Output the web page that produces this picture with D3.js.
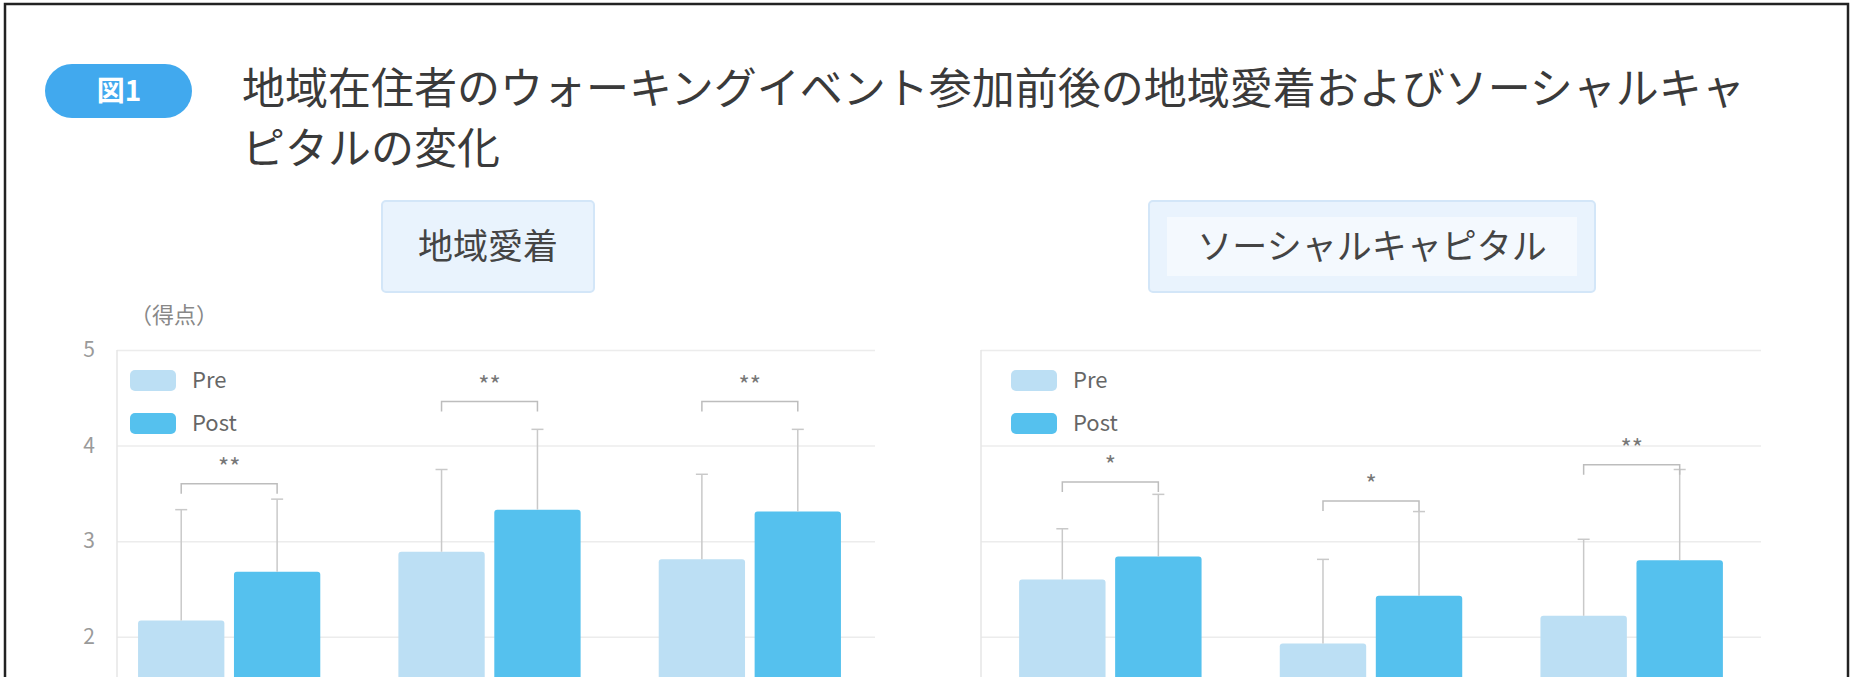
<!DOCTYPE html>
<html lang="ja">
<head>
<meta charset="utf-8">
<script src="https://cdn.jsdelivr.net/npm/d3@7"></script>
<style>
body{margin:0;background:#fff;overflow:hidden}
text{font-family:"Noto Sans CJK JP","Noto Sans",sans-serif}
</style>
</head>
<body>
<svg id="chart" width="1853" height="677"></svg>
<script>
// data
var groups = ["1回目", "2回目", "3回目"];
var series = ["Pre", "Post"];
var yTicks = [2, 3, 4, 5];

var leftPre = [2.17, 2.89, 2.81];
var leftPost = [2.68, 3.33, 3.31];
var leftPreSd = [1.16, 0.86, 0.89];
var leftPostSd = [0.76, 0.84, 0.86];
var leftSigLevel = [3.60, 4.46, 4.46];
var leftSig = ["**", "**", "**"];

var rightPre = [2.60, 1.93, 2.22];
var rightPost = [2.84, 2.43, 2.80];
var rightPreSd = [0.53, 0.88, 0.80];
var rightPostSd = [0.65, 0.88, 0.95];
var rightSigLevel = [3.62, 3.42, 3.80];
var rightSig = ["*", "*", "**"];

var titleLines = ["地域在住者のウォーキングイベント参加前後の地域愛着およびソーシャルキャ", "ピタルの変化"];

var svg = d3.select("#chart");
var colors = {Pre: "#bcdff4", Post: "#55c1ee"};

// page frame
svg.append("rect").attr("x", 5).attr("y", 4).attr("width", 1843).attr("height", 760)
  .attr("fill", "none").attr("stroke", "#222").attr("stroke-width", 2.5);

// badge + title
svg.append("rect").attr("x", 45).attr("y", 64).attr("width", 147).attr("height", 54).attr("rx", 27)
  .attr("fill", "#41a9ee");
svg.append("text").attr("x", 119).attr("y", 101).attr("text-anchor", "middle")
  .attr("font-size", 28).attr("font-weight", "bold").attr("fill", "#fff").text("図1");

svg.selectAll(".title").data(titleLines).enter().append("text")
  .attr("class", "title")
  .attr("x", 242)
  .attr("y", function(d, i) { return 104 + i * 60; })
  .attr("font-size", 43).attr("fill", "#3a3a3a")
  .text(function(d) { return d; });

var y = d3.scaleLinear().domain([0, 5]).range([828, 350]);

var panels = [
  {name: "地域愛着", boxX: 382, boxW: 212, axisX: 117, range: [99, 880], gridEnd: 875,
   pre: leftPre, post: leftPost, preSd: leftPreSd, postSd: leftPostSd,
   sigLevel: leftSigLevel, sig: leftSig, labels: true, unit: "（得点）"},
  {name: "ソーシャルキャピタル", boxX: 1149, boxW: 446, axisX: 981, range: [980, 1762], gridEnd: 1761,
   pre: rightPre, post: rightPost, preSd: rightPreSd, postSd: rightPostSd,
   sigLevel: rightSigLevel, sig: rightSig, labels: false, inner: true}
];

panels.forEach(function(p) {
  var g = svg.append("g");

  // heading box
  g.append("rect").attr("x", p.boxX).attr("y", 201).attr("width", p.boxW).attr("height", 91)
    .attr("rx", 4).attr("fill", "#e9f3fd").attr("stroke", "#d3e6f8").attr("stroke-width", 2);
  if (p.inner) {
    g.append("rect").attr("x", p.boxX + 18).attr("y", 217).attr("width", p.boxW - 36).attr("height", 59)
      .attr("fill", "#f4f9fe");
  }
  g.append("text").attr("x", p.boxX + p.boxW / 2).attr("y", 259).attr("text-anchor", "middle")
    .attr("font-size", 35).attr("fill", "#444").text(p.name);

  if (p.unit) {
    g.append("text").attr("x", 130).attr("y", 323).attr("font-size", 22).attr("fill", "#888").text(p.unit);
  }

  // grid + y axis
  var axis = d3.axisLeft(y).tickValues(yTicks).tickSize(-(p.gridEnd - p.axisX)).tickPadding(22)
    .tickFormat(p.labels ? d3.format("d") : function() { return ""; });
  var ax = g.append("g").attr("transform", "translate(" + p.axisX + ",0)").call(axis);
  ax.select(".domain").remove();
  ax.selectAll(".tick line").attr("stroke", "#ececec").attr("stroke-width", 1.5);
  ax.selectAll(".tick text").attr("font-size", 21).attr("fill", "#9a9a9a")
    .attr("font-family", "'Noto Sans', sans-serif");
  g.append("line").attr("x1", p.axisX).attr("x2", p.axisX).attr("y1", y(5)).attr("y2", 677)
    .attr("stroke", "#e6e6e6").attr("stroke-width", 1.5);

  var x0 = d3.scaleBand().domain(groups).range(p.range).paddingInner(0.3).paddingOuter(0.15);
  var x1 = d3.scaleBand().domain(series).range([0, x0.bandwidth()]).paddingInner(0.1);

  var rows = groups.map(function(gr, i) {
    return {group: gr, i: i, vals: [
      {key: "Pre", v: p.pre[i], sd: p.preSd[i]},
      {key: "Post", v: p.post[i], sd: p.postSd[i]}
    ]};
  });

  var grp = g.selectAll(".grp").data(rows).enter().append("g")
    .attr("transform", function(d) { return "translate(" + x0(d.group) + ",0)"; });

  grp.selectAll("rect").data(function(d) { return d.vals; }).enter().append("rect")
    .attr("x", function(d) { return x1(d.key); })
    .attr("y", function(d) { return y(d.v); })
    .attr("width", x1.bandwidth())
    .attr("height", function(d) { return y(0) - y(d.v); })
    .attr("rx", 3)
    .attr("fill", function(d) { return colors[d.key]; });

  // error bars
  var eb = grp.selectAll(".eb").data(function(d) { return d.vals; }).enter().append("g")
    .attr("stroke", "#c9c9c9").attr("stroke-width", 1.5);
  eb.append("line")
    .attr("x1", function(d) { return x1(d.key) + x1.bandwidth() / 2; })
    .attr("x2", function(d) { return x1(d.key) + x1.bandwidth() / 2; })
    .attr("y1", function(d) { return y(d.v); })
    .attr("y2", function(d) { return y(d.v + d.sd); });
  eb.append("line")
    .attr("x1", function(d) { return x1(d.key) + x1.bandwidth() / 2 - 6; })
    .attr("x2", function(d) { return x1(d.key) + x1.bandwidth() / 2 + 6; })
    .attr("y1", function(d) { return y(d.v + d.sd); })
    .attr("y2", function(d) { return y(d.v + d.sd); });

  // significance brackets
  grp.append("path")
    .attr("d", function(d) {
      var a = x1("Pre") + x1.bandwidth() / 2, b = x1("Post") + x1.bandwidth() / 2, yy = y(p.sigLevel[d.i]);
      return "M" + a + "," + (yy + 10) + "V" + yy + "H" + b + "V" + (yy + 10);
    })
    .attr("fill", "none").attr("stroke", "#bdbdbd").attr("stroke-width", 1.5);
  grp.append("text")
    .attr("x", x0.bandwidth() / 2)
    .attr("y", function(d) { return y(p.sigLevel[d.i]) - 8; })
    .attr("text-anchor", "middle").attr("font-size", 24).attr("fill", "#777")
    .text(function(d) { return p.sig[d.i]; });

  // legend
  var lg = g.selectAll(".lg").data(series).enter().append("g")
    .attr("transform", function(d, i) { return "translate(" + (p.range[0] + 31) + "," + (370 + i * 43) + ")"; });
  lg.append("rect").attr("width", 46).attr("height", 21).attr("rx", 5)
    .attr("fill", function(d) { return colors[d]; });
  lg.append("text").attr("x", 62).attr("y", 18).attr("font-size", 22).attr("fill", "#666")
    .text(function(d) { return d; });
});
</script>
</body>
</html>
